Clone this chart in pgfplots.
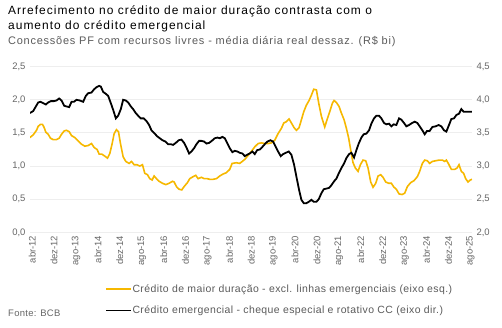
\documentclass[border=0pt]{standalone}
\usepackage{pgfplots}
\pgfplotsset{compat=1.18}
\usepackage{pgfplotstable}
\usepackage{fontspec}
\setmainfont{Liberation Sans}
\definecolor{ylw}{HTML}{F6B800}
\definecolor{gridc}{HTML}{EEEEEE}
\definecolor{tickc}{HTML}{666666}
\definecolor{subc}{HTML}{5A5A5A}

\pgfplotstableread{
m v
-0.85 1.43
0.36 1.47
1.58 1.54
2.19 1.60
3.04 1.63
3.77 1.63
4.38 1.58
4.99 1.51
5.84 1.48
6.69 1.42
7.66 1.40
8.88 1.40
9.85 1.42
10.71 1.48
11.68 1.53
12.53 1.54
13.50 1.52
14.36 1.46
15.57 1.43
16.79 1.38
18.00 1.33
19.22 1.30
20.44 1.31
21.65 1.34
22.63 1.28
23.72 1.25
24.45 1.18
25.43 1.18
26.52 1.15
27.49 1.12
28.35 1.19
29.20 1.34
29.93 1.49
30.78 1.55
31.51 1.52
32.24 1.34
33.21 1.14
34.18 1.07
35.40 1.04
36.25 1.07
37.23 1.02
38.32 1.02
39.29 1.00
40.27 1.02
41.12 0.89
42.09 0.87
42.94 0.81
43.80 0.79
44.53 0.85
45.38 0.81
46.35 0.77
47.57 0.74
48.78 0.72
50.00 0.74
51.22 0.77
51.82 0.76
52.68 0.69
53.65 0.65
54.62 0.64
55.47 0.69
56.69 0.75
57.54 0.81
58.76 0.84
59.73 0.86
60.58 0.81
61.80 0.83
62.77 0.81
63.87 0.81
64.84 0.80
66.06 0.80
67.27 0.81
68.49 0.85
69.71 0.88
70.92 0.90
72.14 0.95
73.00 1.04
74.57 1.05
75.79 1.04
77.62 1.10
79.45 1.19
81.27 1.29
82.49 1.34
83.71 1.35
84.92 1.34
86.14 1.34
87.36 1.35
88.57 1.39
89.79 1.49
91.01 1.57
91.86 1.65
92.83 1.67
93.80 1.71
94.66 1.65
95.63 1.58
96.48 1.54
97.45 1.58
98.31 1.70
99.16 1.82
100.13 1.92
101.10 1.99
101.96 2.07
102.81 2.16
103.78 2.15
104.63 1.95
105.61 1.75
106.82 1.59
107.67 1.70
108.65 1.82
109.62 1.95
110.23 1.99
111.08 1.96
112.05 1.90
112.90 1.80
113.88 1.70
114.73 1.57
115.58 1.42
116.31 1.24
117.16 1.05
118.01 0.97
118.99 0.92
119.84 1.02
120.81 1.09
121.79 1.08
122.64 0.97
123.61 0.76
124.46 0.68
125.44 0.74
126.29 0.85
127.26 0.87
128.11 0.83
129.08 0.76
130.18 0.74
131.15 0.74
132.13 0.68
132.98 0.65
133.95 0.58
135.05 0.57
136.02 0.59
136.99 0.69
138.21 0.75
139.43 0.78
140.64 0.84
141.49 0.92
142.47 1.04
143.32 1.09
144.29 1.08
145.14 1.04
146.12 1.07
147.33 1.08
148.55 1.09
149.77 1.09
150.62 1.07
151.23 1.09
152.20 1.02
153.05 0.95
154.27 0.95
155.12 0.97
155.85 1.02
156.70 0.92
157.55 0.89
158.28 0.81
159.13 0.76
159.98 0.79
160.59 0.80
}\yellowdata

\pgfplotstableread{
m r
-0.85 3.80
0.36 3.83
1.34 3.90
2.19 3.96
3.04 3.97
4.01 3.95
4.99 3.93
5.84 3.96
6.81 3.98
7.91 3.98
8.88 3.99
9.85 4.02
10.71 3.99
11.68 3.91
12.53 3.90
13.50 3.89
14.36 3.97
15.21 3.97
16.18 4.00
17.40 3.99
18.61 3.97
19.59 4.06
20.44 4.10
21.65 4.11
22.63 4.16
23.48 4.19
24.45 4.21
25.06 4.20
25.91 4.12
26.89 4.09
27.74 4.06
28.71 3.95
29.56 3.85
30.54 3.72
31.39 3.76
32.36 3.86
33.21 4.00
34.18 3.99
35.04 3.96
36.01 3.90
36.86 3.86
37.83 3.80
38.69 3.76
39.66 3.72
40.75 3.72
41.73 3.68
42.70 3.62
43.55 3.54
44.53 3.50
45.62 3.45
46.59 3.42
47.57 3.39
48.66 3.37
49.64 3.33
50.61 3.33
51.46 3.32
52.43 3.35
53.53 3.39
54.50 3.40
55.47 3.35
56.33 3.28
57.30 3.19
58.15 3.22
59.12 3.27
59.98 3.33
60.95 3.38
61.80 3.38
62.77 3.37
63.63 3.34
64.60 3.35
65.57 3.38
66.67 3.42
67.64 3.43
68.49 3.42
69.46 3.44
70.32 3.42
71.29 3.34
72.14 3.27
73.11 3.21
73.97 3.23
74.94 3.22
75.79 3.20
76.77 3.19
77.62 3.15
78.48 3.17
79.45 3.19
80.42 3.22
81.27 3.18
82.13 3.24
83.10 3.25
84.07 3.29
84.92 3.33
85.90 3.37
86.99 3.39
87.97 3.37
88.94 3.29
89.79 3.22
90.76 3.15
91.62 3.18
92.59 3.20
93.68 3.22
94.66 3.17
95.63 3.02
96.48 2.84
97.45 2.64
98.31 2.49
99.16 2.44
100.13 2.44
100.98 2.46
101.96 2.49
102.81 2.46
103.78 2.46
104.63 2.50
105.61 2.59
106.46 2.65
107.43 2.66
108.40 2.67
109.25 2.71
110.23 2.77
111.08 2.81
112.05 2.90
112.90 2.97
113.88 3.04
114.73 3.12
115.70 3.18
116.55 3.20
117.53 3.13
118.38 3.24
119.23 3.34
120.20 3.43
121.06 3.48
122.03 3.49
123.00 3.54
123.85 3.64
124.83 3.72
125.68 3.76
126.65 3.76
127.50 3.72
128.48 3.65
129.33 3.63
130.30 3.64
131.15 3.60
132.00 3.63
132.98 3.62
133.95 3.72
134.80 3.70
135.78 3.65
136.63 3.60
137.60 3.62
138.70 3.65
139.67 3.67
140.64 3.65
141.49 3.60
142.47 3.54
143.32 3.48
144.17 3.53
145.14 3.53
146.12 3.59
147.33 3.60
148.43 3.62
149.40 3.60
150.37 3.54
151.23 3.52
152.20 3.62
153.05 3.71
154.02 3.72
154.88 3.77
155.85 3.79
156.70 3.86
157.55 3.82
158.53 3.82
159.50 3.82
160.59 3.82
}\blackdata

\pgfplotsset{
  common/.style={
    at={(30bp,94.7bp)}, anchor=south west,
    scale only axis, width=442bp, height=165.6bp,
    xmin=-0.8, xmax=160.6,
    axis line style={draw=none},
    major tick length=0pt,
    tick label style={font=\fontsize{9.5}{11}\selectfont, text=tickc},
    /pgf/number format/.cd, fixed, fixed zerofill, precision=1, use comma, assume math mode=true,
  }
}

\begin{document}
\begin{tikzpicture}[x=1bp,y=1bp]
\path[use as bounding box] (0,0) rectangle (502,327);
\node[anchor=base west, inner sep=0, font=\fontsize{12}{14}\selectfont\addfontfeature{LetterSpace=8.5}, text=black] at (8,313) {Arrefecimento no crédito de maior duração contrasta com o};
\node[anchor=base west, inner sep=0, font=\fontsize{12}{14}\selectfont\addfontfeature{LetterSpace=8.5}, text=black] at (8,297.5) {aumento do crédito emergencial};
\node[anchor=base west, inner sep=0, font=\fontsize{11}{13}\selectfont\addfontfeature{LetterSpace=7}, text=subc] at (8,282.5) {Concessões PF com recursos livres - média diária real dessaz. (R\$ bi)};
\node[anchor=base west, inner sep=0, font=\fontsize{9.5}{11}\selectfont\addfontfeature{LetterSpace=3}, text=tickc] at (8,11) {Fonte: BCB};

\begin{axis}[common,
  ymin=0, ymax=2.5, ytick={0,0.5,...,2.5},
  ymajorgrids, grid style={gridc, line width=1bp},
  xtick={0,8,...,160},
  xticklabels={abr-12,dez-12,ago-13,abr-14,dez-14,ago-15,abr-16,dez-16,ago-17,abr-18,dez-18,ago-19,abr-20,dez-20,ago-21,abr-22,dez-22,ago-23,abr-24,dez-24,ago-25},
  xticklabel style={rotate=90, anchor=east},
  xtick pos=bottom, ytick pos=left,
  yticklabel style={anchor=east, xshift=-1bp},
]
\addplot[ylw, line width=1.6bp] table[x=m, y=v] {\yellowdata};
\end{axis}

\begin{axis}[common,
  ymin=2, ymax=4.5, ytick={2,2.5,...,4.5},
  axis y line*=right, hide x axis,
  yticklabel style={anchor=west, xshift=1bp},
  legend style={at={(axis description cs:0.163,-0.30)}, anchor=north west, draw=none, fill=none,
    font=\fontsize{10.5}{12}\selectfont\addfontfeature{LetterSpace=4}, text=subc, row sep=11bp,
    nodes={inner sep=0.5bp}},
  legend cell align=left,
  legend image code/.code={\draw[#1] (0bp,0bp) -- (25bp,0bp);},
]
\addlegendimage{ylw, line width=1.6bp}
\addlegendentry{Crédito de maior duração - excl. linhas emergenciais (eixo esq.)}
\addplot[black, line width=1.8bp] table[x=m, y=r] {\blackdata};
\addlegendentry{Crédito emergencial - cheque especial e rotativo CC (eixo dir.)}
\end{axis}
\end{tikzpicture}
\end{document}
